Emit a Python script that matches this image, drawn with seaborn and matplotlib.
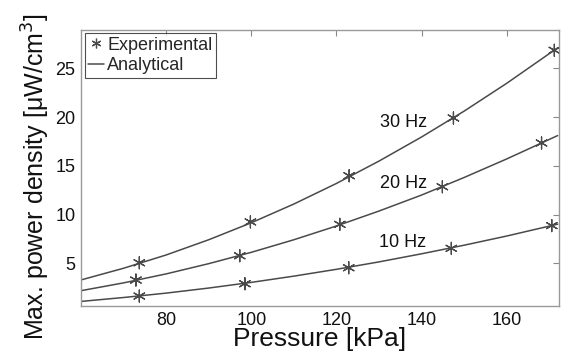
import matplotlib
matplotlib.use("Agg")
import matplotlib.pyplot as plt
import seaborn as sns
import pandas as pd
from matplotlib.lines import Line2D

# Experimental points (pressure kPa, power density uW/cm^3)
exp_p_30 = [73.7, 99.8, 123.0, 147.5, 171.2]
exp_v_30 = [5.06, 9.25, 13.98, 19.9, 26.84]
exp_p_20 = [72.9, 97.3, 120.8, 144.9, 168.2]
exp_v_20 = [3.29, 5.78, 9.0, 12.85, 17.34]
exp_p_10 = [73.7, 98.5, 122.9, 147.0, 170.6]
exp_v_10 = [1.65, 2.91, 4.55, 6.54, 8.87]

# Analytical curves
ana_p = [60, 70, 80, 90, 100, 110, 120, 130, 140, 150, 160, 172]
ana_v_30 = [3.3, 4.5, 5.86, 7.42, 9.16, 11.08, 13.19, 15.48, 17.95, 20.6, 23.45, 27.1]
ana_v_20 = [2.2, 3.0, 3.92, 4.97, 6.13, 7.42, 8.83, 10.36, 12.0, 13.8, 15.7, 18.1]
ana_v_10 = [1.1, 1.5, 1.95, 2.47, 3.05, 3.69, 4.39, 5.15, 5.98, 6.86, 7.8, 9.02]

freq_labels = ["30 Hz", "20 Hz", "10 Hz"]
label_pos = [(135.8, 19.4), (135.8, 13.2), (135.6, 7.1)]

x_ticks = [80, 100, 120, 140, 160]
y_ticks = [5, 10, 15, 20, 25]

exp_df = pd.concat([
    pd.DataFrame({"p": exp_p_30, "v": exp_v_30, "f": "30 Hz"}),
    pd.DataFrame({"p": exp_p_20, "v": exp_v_20, "f": "20 Hz"}),
    pd.DataFrame({"p": exp_p_10, "v": exp_v_10, "f": "10 Hz"}),
])
ana_df = pd.concat([
    pd.DataFrame({"p": ana_p, "v": ana_v_30, "f": "30 Hz"}),
    pd.DataFrame({"p": ana_p, "v": ana_v_20, "f": "20 Hz"}),
    pd.DataFrame({"p": ana_p, "v": ana_v_10, "f": "10 Hz"}),
])

sns.set_style("white")
plt.rcParams["font.family"] = ["Liberation Sans", "DejaVu Sans"]

fig = plt.figure(figsize=(5.68, 3.59), dpi=100)
ax = fig.add_axes([81/568, 53/359, 478/568, 276.5/359])

line_col = "#4a4a4a"
pal = {k: line_col for k in freq_labels}
sns.lineplot(data=ana_df, x="p", y="v", hue="f", palette=pal, ax=ax,
             linewidth=1.1, legend=False, sort=True)
sns.scatterplot(data=exp_df, x="p", y="v", hue="f", palette=pal, ax=ax,
                marker=(6, 2, 0), s=75, linewidth=0.9, edgecolor=line_col,
                legend=False, zorder=3)

for lab, (lx, ly) in zip(freq_labels, label_pos):
    ax.text(lx, ly, lab, ha="center", va="center", fontsize=13, color="#111111")

ax.set_xlim(60, 172.3)
ax.set_ylim(0.63, 28.97)
ax.set_xticks(x_ticks)
ax.set_yticks(y_ticks)
ax.tick_params(direction="in", top=True, right=True, length=4, width=0.8,
               color="#888888", labelsize=13, labelcolor="#111111", pad=4)
for s in ax.spines.values():
    s.set_color("#999999")
    s.set_linewidth(1.0)

ax.set_xlabel("Pressure [kPa]", fontsize=19, labelpad=-1, color="#111111")
ax.set_ylabel("Max. power density [μW/cm$^3$]", fontsize=18, color="#111111",
              va="center")
ax.yaxis.set_label_coords(-0.094, 0.468)

handles = [Line2D([], [], linestyle="none", marker=(6, 2, 0), markersize=7,
                  color=line_col, markeredgewidth=0.9),
           Line2D([], [], color=line_col, linewidth=1.1)]
leg = ax.legend(handles, ["Experimental", "Analytical"], loc="upper left",
                fontsize=13, frameon=True, fancybox=False, handlelength=0.9,
                handletextpad=0.15, borderpad=0.2, labelspacing=0.2,
                borderaxespad=0.2)
leg.get_frame().set_edgecolor("#222222")
leg.get_frame().set_linewidth(0.8)

fig.savefig("out.png", dpi=100)
